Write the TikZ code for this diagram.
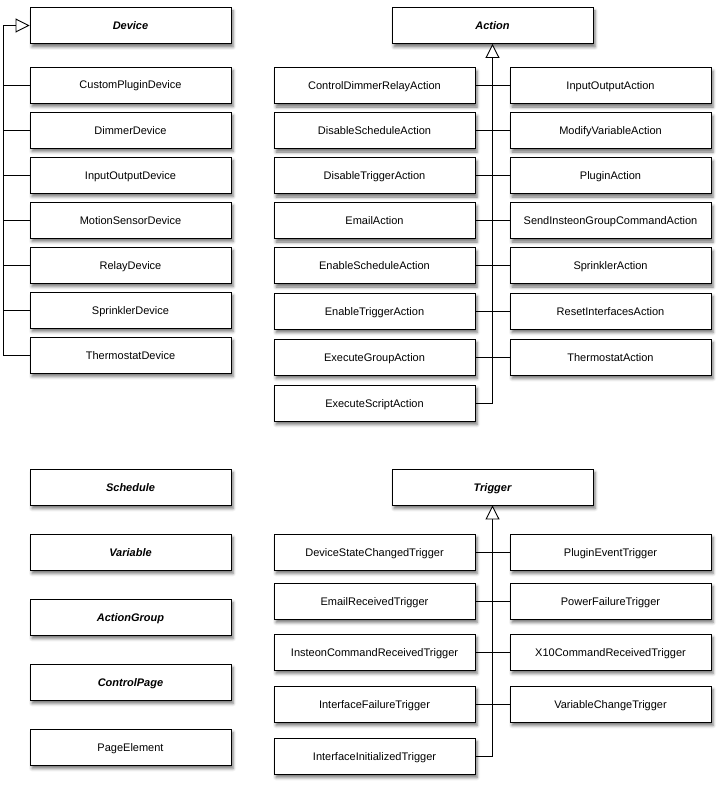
\documentclass[tikz,border=0pt]{standalone}
\usepackage{fontspec}
\setmainfont{Liberation Sans}
\usetikzlibrary{arrows.meta,shadows.blur}
\tikzset{
  box/.style={draw=black, line width=0.9pt, fill=white, minimum width=201pt, minimum height=36pt, inner sep=0pt,
    text height=9pt, text depth=1pt,
    font=\fontsize{11}{13}\selectfont,
    blur shadow={shadow xshift=2pt, shadow yshift=-3.5pt, shadow blur radius=3pt, shadow opacity=55}},
  abstract/.style={box, font=\fontsize{11}{13}\selectfont\bfseries\itshape},
  link/.style={draw=black, line width=0.9pt},
  inherit/.style={link, -{Triangle[open, fill=white, length=14pt, width=14pt, line width=0.9pt]}}
}
\begin{document}
\begin{tikzpicture}[x=1pt, y=-1pt]
\useasboundingbox (0,0) rectangle (722,789);
% Device hierarchy
\node[abstract] (device) at (130.5,25.5) {Device};
\node[box] (d1) at (130.5,85) {CustomPluginDevice};
\node[box] (d2) at (130.5,130) {DimmerDevice};
\node[box] (d3) at (130.5,175) {InputOutputDevice};
\node[box] (d4) at (130.5,220) {MotionSensorDevice};
\node[box] (d5) at (130.5,265) {RelayDevice};
\node[box] (d6) at (130.5,310) {SprinklerDevice};
\node[box] (d7) at (130.5,355) {ThermostatDevice};
\coordinate (dbus) at (3.5,355);
\draw[inherit] (d7.west) -- (dbus) |- (device.west);
\foreach \n in {d1,d2,d3,d4,d5,d6} { \draw[link] (\n.west) -- (\n.west -| dbus); }
% Action hierarchy
\node[abstract] (action) at (492.5,25.5) {Action};
\node[box] (a1) at (374.5,85.5) {ControlDimmerRelayAction};
\node[box] (a2) at (374.5,130.5) {DisableScheduleAction};
\node[box] (a3) at (374.5,175.5) {DisableTriggerAction};
\node[box] (a4) at (374.5,220.5) {EmailAction};
\node[box] (a5) at (374.5,265.5) {EnableScheduleAction};
\node[box] (a6) at (374.5,311) {EnableTriggerAction};
\node[box] (a7) at (374.5,357) {ExecuteGroupAction};
\node[box] (a8) at (374.5,403) {ExecuteScriptAction};
\node[box] (b1) at (610.5,85.5) {InputOutputAction};
\node[box] (b2) at (610.5,130.5) {ModifyVariableAction};
\node[box] (b3) at (610.5,175.5) {PluginAction};
\node[box] (b4) at (610.5,220.5) {SendInsteonGroupCommandAction};
\node[box] (b5) at (610.5,265.5) {SprinklerAction};
\node[box] (b6) at (610.5,311) {ResetInterfacesAction};
\node[box] (b7) at (610.5,357) {ThermostatAction};
\draw[inherit] (a8.east) -| (action.south);
\foreach \i in {1,...,7} { \draw[link] (a\i.east) -- (b\i.west); }
% Standalone classes
\node[abstract] (schedule) at (130.5,487) {Schedule};
\node[abstract] (variable) at (130.5,552) {Variable};
\node[abstract] (actiongroup) at (130.5,617) {ActionGroup};
\node[abstract] (controlpage) at (130.5,682) {ControlPage};
\node[box] (pageelement) at (130.5,747) {PageElement};
% Trigger hierarchy
\node[abstract] (trigger) at (492.5,487) {Trigger};
\node[box] (t1) at (374.5,552) {DeviceStateChangedTrigger};
\node[box] (t2) at (374.5,601) {EmailReceivedTrigger};
\node[box] (t3) at (374.5,652) {InsteonCommandReceivedTrigger};
\node[box] (t4) at (374.5,704) {InterfaceFailureTrigger};
\node[box] (t5) at (374.5,756) {InterfaceInitializedTrigger};
\node[box] (u1) at (610.5,552) {PluginEventTrigger};
\node[box] (u2) at (610.5,601) {PowerFailureTrigger};
\node[box] (u3) at (610.5,652) {X10CommandReceivedTrigger};
\node[box] (u4) at (610.5,704) {VariableChangeTrigger};
\draw[inherit] (t5.east) -| (trigger.south);
\foreach \i in {1,...,4} { \draw[link] (t\i.east) -- (u\i.west); }
\end{tikzpicture}
\end{document}
